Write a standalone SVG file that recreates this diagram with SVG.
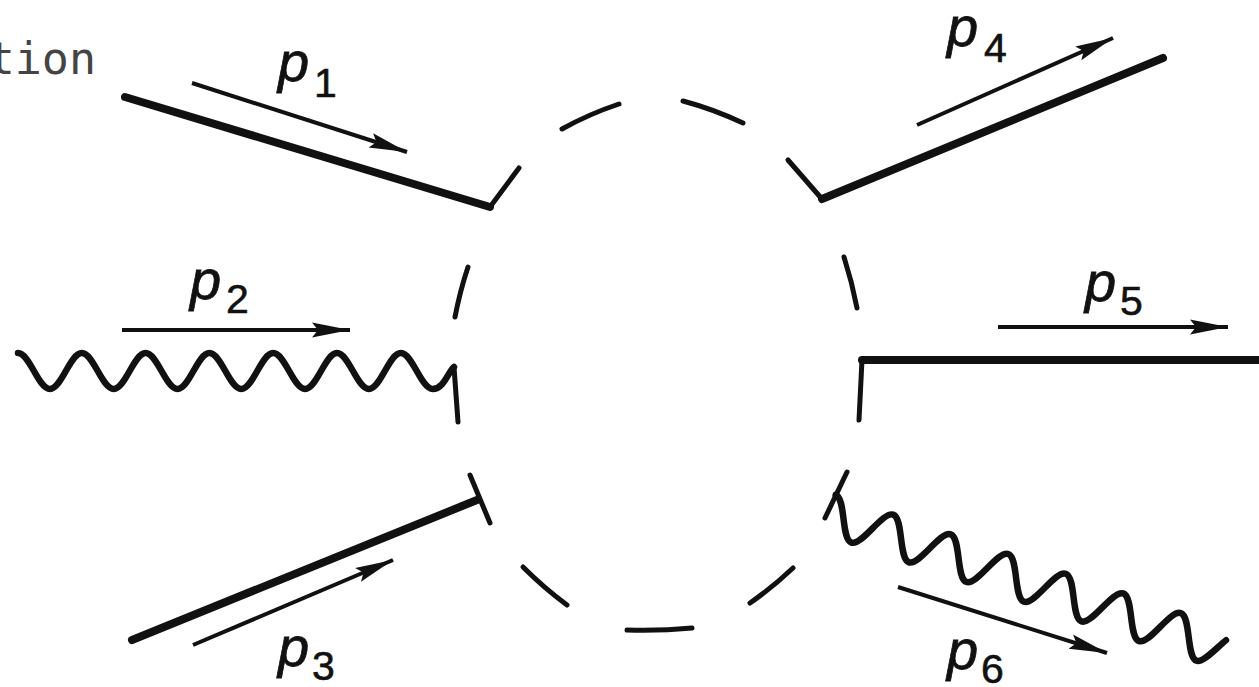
<svg xmlns="http://www.w3.org/2000/svg" width="1259" height="687" viewBox="0 0 1259 687">
<defs>
<style>
.thick{stroke:#111;stroke-width:8;fill:none;stroke-linecap:round;stroke-linejoin:round}
.tick{stroke:#111;stroke-width:5;fill:none;stroke-linecap:round}
.dash{stroke:#111;stroke-width:5;fill:none;stroke-linecap:round}
.wave{stroke:#111;stroke-width:6.5;fill:none;stroke-linecap:round;stroke-linejoin:round}
.mom{stroke:#111;stroke-width:4;fill:none;marker-end:url(#ah)}
.p{font-family:"Liberation Sans",Arial,sans-serif;font-style:italic;font-size:56px;fill:#111;stroke:#111;stroke-width:0.8}
.n{font-family:"Liberation Sans",Arial,sans-serif;font-size:41px;fill:#111;stroke:#111;stroke-width:0.6}
.cap{font-family:"DejaVu Sans Mono",monospace;font-size:45px;fill:#444}
</style>
<marker id="ah" markerUnits="userSpaceOnUse" markerWidth="42" markerHeight="20" refX="38" refY="10" orient="auto">
<path d="M0,2.5 L38,10 L0,17.5 L6,10 Z" fill="#111"/>
</marker>
</defs>
<rect width="1259" height="687" fill="#fff"/>

<text class="cap" x="96" y="74" text-anchor="end">tion</text>

<g id="blob">
<path class="dash" d="M562,129 Q589,114 619,104"/>
<path class="dash" d="M683,101 Q713,109 743,123"/>
<path class="dash" d="M468,267 Q460,291 455,317"/>
<path class="dash" d="M844,257 Q852,282 857,308"/>
<path class="dash" d="M523,567 Q544,588 567,605"/>
<path class="dash" d="M627,630 Q660,631 692,628"/>
<path class="dash" d="M750,603 Q773,587 793,568"/>
</g>

<g id="connectors">
<g id="leg-p1">
<line class="thick" x1="125" y1="97" x2="490" y2="207"/>
<line class="tick" x1="490" y1="207" x2="519" y2="168"/>
<line class="mom" x1="192" y1="83" x2="407" y2="152"/>
</g>
<g id="leg-p2">
<path class="wave" d="M18,353 C29.6,353 38.3,389 49.9,389 S70.2,353 81.8,353 S102.1,389 113.7,389 S134,353 145.6,353 S165.9,389 177.5,389 S197.8,353 209.4,353 S229.7,389 241.3,389 S261.6,353 273.2,353 S293.5,389 305.1,389 S325.4,353 337,353 S357.3,389 368.9,389 S389.2,353 400.8,353 S421.1,389 432.7,389 C444,389 448,372 454,367"/>
<line class="tick" x1="454" y1="367" x2="458" y2="422"/>
<line class="mom" x1="122" y1="330" x2="350" y2="330"/>
</g>
<g id="leg-p3">
<line class="thick" x1="132" y1="640" x2="477" y2="500"/>
<line class="tick" x1="470" y1="475" x2="490" y2="523"/>
<line class="mom" x1="193" y1="645" x2="393" y2="560"/>
</g>
<g id="leg-p4">
<line class="thick" x1="822" y1="199" x2="1163" y2="58"/>
<line class="tick" x1="788" y1="160" x2="822" y2="199"/>
<line class="mom" x1="917" y1="125" x2="1113" y2="38"/>
</g>
<g id="leg-p5">
<line class="thick" x1="862" y1="360" x2="1265" y2="360"/>
<line class="tick" x1="862" y1="360" x2="859" y2="420"/>
<line class="mom" x1="998" y1="327" x2="1228" y2="327"/>
</g>
<g id="leg-p6">
<line class="tick" x1="847" y1="472" x2="825" y2="518"/>
<path class="wave" transform="translate(857.9,523.7) rotate(18.9)" d="M-30.4,-20 C-19.35,-20 -11.050,20 0,20 S19.35,-20 30.4,-20 S49.75,20 60.8,20 S80.15,-20 91.2,-20 S110.55,20 121.6,20 S140.95,-20 152,-20 S171.35,20 182.4,20 S201.75,-20 212.8,-20 S232.15,20 243.2,20 S262.55,-20 273.6,-20 S292.95,20 304,20 S323.35,-20 334.4,-20 S353.75,20 364.8,20 C372,20 380,0 386,-9"/>
<line class="mom" x1="898" y1="587" x2="1107" y2="653"/>
</g>
</g>

<g id="label-p1"><text class="p" x="278" y="81">p</text><text class="n" x="314" y="97">1</text></g>
<g id="label-p2"><text class="p" x="190" y="299">p</text><text class="n" x="226" y="313">2</text></g>
<g id="label-p3"><text class="p" x="278" y="666">p</text><text class="n" x="312" y="680">3</text></g>
<g id="label-p4"><text class="p" x="947" y="46">p</text><text class="n" x="984" y="62">4</text></g>
<g id="label-p5"><text class="p" x="1085" y="301">p</text><text class="n" x="1120" y="315">5</text></g>
<g id="label-p6"><text class="p" x="947" y="669">p</text><text class="n" x="981" y="683">6</text></g>
</svg>
